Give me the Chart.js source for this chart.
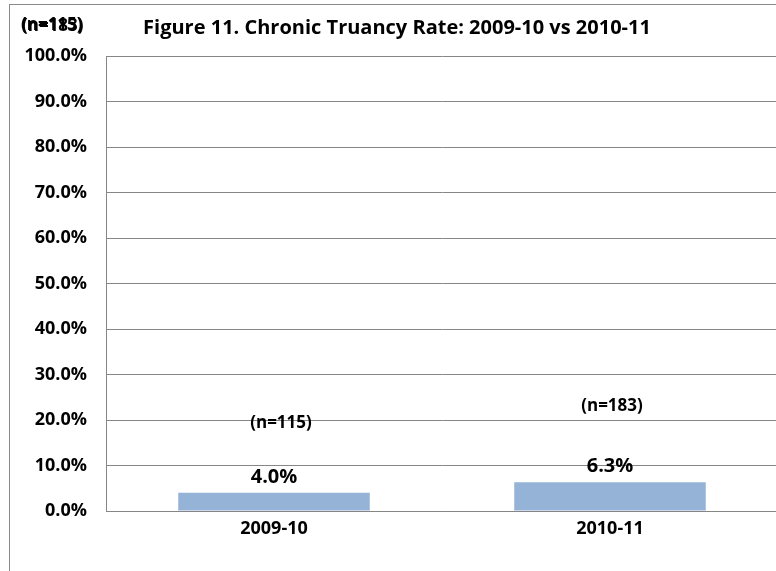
<!DOCTYPE html>
<html>
<head>
<meta charset="utf-8">
<script src="https://cdn.jsdelivr.net/npm/chart.js@4/dist/chart.umd.min.js"></script>
<style>
  html, body { margin: 0; padding: 0; background: #fff; overflow: hidden; }
  #frame {
    position: absolute; left: 9px; top: 4px; width: 820px; height: 620px;
    border: 1px solid #8a8a8a; box-sizing: border-box;
  }
  #wrap { position: absolute; left: 0; top: 0; width: 790px; height: 571px; }
</style>
</head>
<body>
<div id="frame"></div>
<div id="wrap"><canvas id="chart"></canvas></div>
<script>
const categories = ['2009-10', '2010-11'];
const rates = [4.0, 6.3];           // chronic truancy rate, percent
const sampleSizes = [115, 183];
const tickValues = [0, 10, 20, 30, 40, 50, 60, 70, 80, 90, 100];

const FONT = '"Open Sans", Lato, sans-serif';

// value labels above bars plus the "(n=...)" notes
const labelPlugin = {
  id: 'barLabels',
  afterDatasetsDraw(chart) {
    const { ctx } = chart;
    const meta = chart.getDatasetMeta(0);
    const noteLift = [70, 76];
    const noteShift = [7, 2];
    ctx.save();
    ctx.fillStyle = '#000';
    ctx.textAlign = 'center';
    ctx.textBaseline = 'middle';
    meta.data.forEach((bar, i) => {
      ctx.font = 'bold 20px ' + FONT;
      ctx.fillText(rates[i].toFixed(1) + '%', bar.x, bar.y - 16);
      ctx.font = 'bold 17px ' + FONT;
      ctx.fillText('(n=' + sampleSizes[i] + ')', bar.x + noteShift[i], bar.y - noteLift[i]);
    });
    // stray overlapping copies of the notes in the corner
    ctx.textAlign = 'left';
    ctx.font = 'bold 17px ' + FONT;
    ctx.fillText('(n=' + sampleSizes[0] + ')', 21, 25);
    ctx.fillText('(n=' + sampleSizes[1] + ')', 22, 26);
    ctx.restore();
  }
};

const chart = new Chart(document.getElementById('chart'), {
  type: 'bar',
  data: {
    labels: categories,
    datasets: [{
      label: 'Chronic Truancy Rate',
      data: rates,
      backgroundColor: '#95b3d7',
      borderWidth: 0,
      categoryPercentage: 1.0,
      barPercentage: 0.57
    }]
  },
  options: {
    responsive: true,
    maintainAspectRatio: false,
    animation: false,
    devicePixelRatio: 1,
    layout: { padding: { left: 16, right: 12, top: 0, bottom: 0 } },
    plugins: {
      legend: { display: false },
      tooltip: { enabled: false },
      title: {
        display: true,
        text: 'Figure 11. Chronic Truancy Rate: 2009-10 vs 2010-11',
        color: '#000',
        font: { family: FONT, size: 20, weight: 'bold', lineHeight: 1.2 },
        padding: { top: 16, bottom: 16 }
      }
    },
    scales: {
      x: {
        grid: { display: false, drawTicks: false },
        border: { display: true, color: '#868686' },
        ticks: {
          color: '#000',
          padding: 7,
          font: { family: FONT, size: 18, weight: 'bold' }
        },
        afterFit: (scale) => { scale.height = 60; }
      },
      y: {
        min: 0,
        max: 100,
        afterBuildTicks: (scale) => { scale.ticks = tickValues.map(v => ({ value: v })); },
        grid: { color: '#868686', drawTicks: false },
        border: { display: true, color: '#868686' },
        ticks: {
          color: '#000',
          padding: 19,
          font: { family: FONT, size: 18, weight: 'bold' },
          callback: (v) => v.toFixed(1) + '%'
        },
        afterFit: (scale) => { scale.width = 90; }
      }
    }
  },
  plugins: [labelPlugin]
});
</script>
</body>
</html>
